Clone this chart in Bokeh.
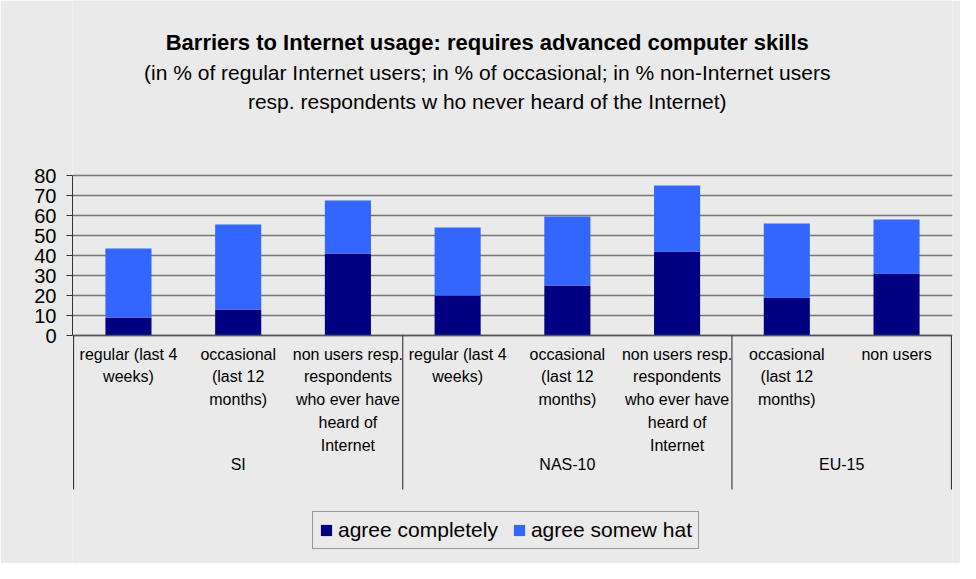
from bokeh.plotting import figure
from bokeh.models import ColumnDataSource, Range1d, FixedTicker
from bokeh.core.properties import value
from bokeh.embed import file_html
from bokeh.resources import INLINE

# ---- data ----
groups = ["SI", "NAS-10", "EU-15"]
group_sizes = [3, 3, 2]
categories = [
    "regular (last 4\nweeks)",
    "occasional\n(last 12\nmonths)",
    "non users resp.\nrespondents\nwho ever have\nheard of\nInternet",
    "regular (last 4\nweeks)",
    "occasional\n(last 12\nmonths)",
    "non users resp.\nrespondents\nwho ever have\nheard of\nInternet",
    "occasional\n(last 12\nmonths)",
    "non users",
]
agree_completely = [9, 13, 41, 20, 25, 42, 19, 31]
agree_somewhat = [34.5, 42.5, 26.5, 34, 34.5, 33, 37, 27]
series_names = ["agree completely", "agree somew hat"]
series_colors = ["#000080", "#3366FF"]
y_ticks = [0, 10, 20, 30, 40, 50, 60, 70, 80]
title_lines = [
    "Barriers to Internet usage: requires advanced computer skills",
    "(in % of regular Internet users; in % of occasional; in % non-Internet users",
    "resp. respondents w ho never heard of the Internet)",
]

FONT = "Liberation Sans"
BG = "#EAEAEA"

xs = [i + 0.5 for i in range(len(categories))]
src = ColumnDataSource(dict(x=xs, c=agree_completely, s=agree_somewhat, label=categories))

p = figure(width=960, height=563, output_backend="svg", toolbar_location=None,
           x_range=Range1d(-0.01, len(categories) + 0.01), y_range=Range1d(-114, 167.5),
           x_axis_location=None, title=None,
           min_border_left=72, min_border_right=8, min_border_top=0, min_border_bottom=0)
p.background_fill_color = BG
p.border_fill_color = BG
p.outline_line_color = None

# y axis
ax = p.yaxis[0]
ax.ticker = FixedTicker(ticks=y_ticks)
ax.bounds = (0, 80)
ax.axis_line_color = "#333333"
ax.major_tick_line_color = "#333333"
ax.major_tick_out = 6
ax.major_tick_in = 0
ax.minor_tick_line_color = None
ax.major_label_standoff = 10
ax.major_label_text_font = FONT
ax.major_label_text_font_size = "20px"
ax.major_label_text_color = "#000000"

p.ygrid.grid_line_color = "#767676"
p.ygrid.grid_line_width = 1.6
p.xgrid.visible = False

# bars
p.vbar_stack(["c", "s"], x="x", width=0.42, color=series_colors, line_color=None,
             source=src, legend_label=series_names)

# baseline and group separators
n = len(categories)
p.segment(x0=[0], y0=[0], x1=[n], y1=[0], line_color="#555555", line_width=1.5)
bounds = [0]
for g in group_sizes:
    bounds.append(bounds[-1] + g)
p.segment(x0=bounds, y0=[0] * len(bounds), x1=bounds, y1=[-77] * len(bounds),
          line_color="#222222", line_width=1)

# category labels
p.text(x="x", y=-5, text="label", source=src, text_font=value(FONT),
       text_font_size="16px", text_align="center", text_baseline="top",
       text_line_height=1.35, text_color="#000000")

# group labels
gx = [(bounds[i] + bounds[i + 1]) / 2 for i in range(len(groups))]
p.text(x=gx, y=[-64.5] * len(groups), text=groups, text_font=value(FONT),
       text_font_size="16px", text_align="center", text_baseline="middle",
       text_color="#000000")

# titles
p.text(x=[3.77], y=[146.5], text=[title_lines[0]], text_font=value(FONT),
       text_font_size="22px", text_font_style="bold", text_align="center",
       text_baseline="middle", text_color="#000000")
p.text(x=[3.77, 3.77], y=[131.5, 117], text=title_lines[1:], text_font=value(FONT),
       text_font_size="21px", text_align="center", text_baseline="middle",
       text_color="#000000")

# legend
lg = p.legend[0]
lg.location = (240, 14)
lg.orientation = "horizontal"
lg.border_line_color = "#444444"
lg.border_line_width = 1
lg.background_fill_color = BG
lg.background_fill_alpha = 1
lg.label_text_font = FONT
lg.label_text_font_size = "21px"
lg.label_text_color = "#000000"
lg.glyph_width = 14
lg.glyph_height = 14
lg.label_standoff = 5
lg.spacing = 14
lg.padding = 6
lg.margin = 0

open("out.html", "w").write(file_html(p, INLINE))
